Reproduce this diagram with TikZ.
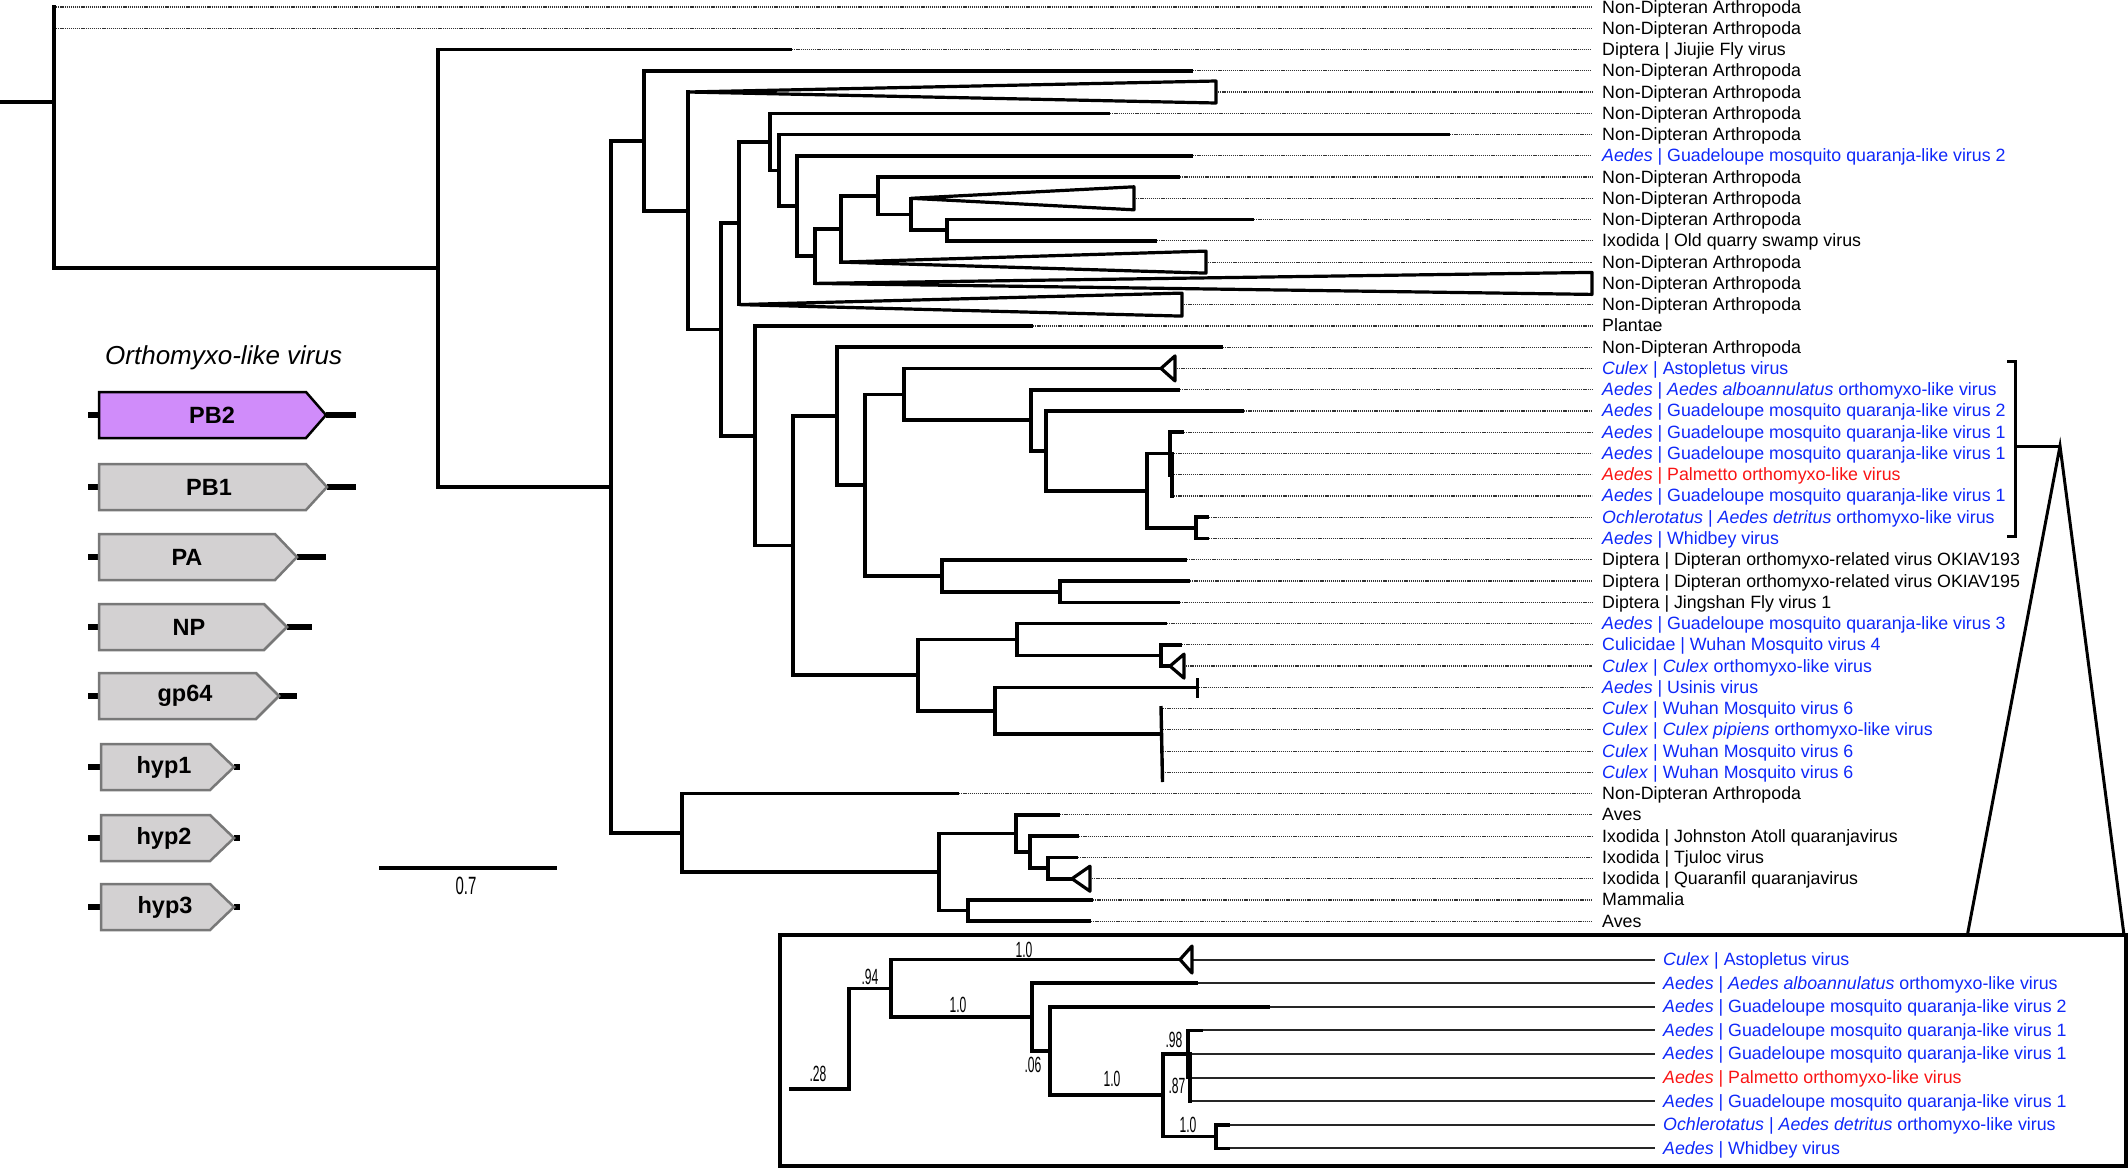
\documentclass[tikz,border=0pt]{standalone}
\usepackage{fontspec}
\setmainfont{Liberation Sans}
\usepackage{graphicx}
\definecolor{lblue}{RGB}{15,40,250}
\definecolor{lred}{RGB}{250,20,20}
\definecolor{pbfill}{RGB}{208,140,250}
\definecolor{gfill}{RGB}{211,209,210}
\definecolor{gedge}{RGB}{120,120,120}
\newcommand\hb[3]{\draw[br] (#2,#1) -- (#3,#1);}
\newcommand\vb[3]{\draw[br] (#1,#2) -- (#1,#3);}
\newcommand\ctri[4]{\draw[ctr] (#1,#2) -- (#3,{#2-#4}) -- (#3,{#2+#4}) -- cycle;}
\newcommand\tlab[2]{\node[lab] (L#1) at (1602,{7+21.26*#1+6}) {#2};}
\newcommand\ilab[2]{\node[lab] (I#1) at (1663,{959.5+23.6*#1+6}) {#2};}
\newcommand\sv[4]{\node[sup] (#1) at (#2,#3) {\scalebox{0.55}[1]{\fontsize{22}{22}\selectfont #4}};}
\newcommand\Bl[1]{\textcolor{lblue}{#1}}
\newcommand\Rd[1]{\textcolor{lred}{#1}}
\newcommand\gene[9]{%
  \draw[stub] (88,#2) -- (#3,#2);
  \draw[stub] (#5,#2) -- (#6,#2);
  \draw[#9] (#3,{#2-23}) -- (#4,{#2-23}) -- (#5,#2) -- (#4,{#2+23}) -- (#3,{#2+23}) -- cycle;
  \node[glab] (#1) at (#7,#2) {#8};}
\tikzset{
 br/.style={line width=3.6pt, line cap=rect},
 ctr/.style={line width=3.2pt, line join=round},
 dotl/.style={line width=1.2pt, black!80, dash pattern=on 1.2pt off 0.9pt},
 thinl/.style={line width=2pt, black!85},
 lab/.style={anchor=base west, inner sep=0pt, font=\fontsize{17.8}{20}\selectfont},
 sup/.style={inner sep=0pt},
 stub/.style={line width=6pt},
 glab/.style={inner sep=0pt, font=\fontsize{23.5}{26}\selectfont\bfseries},
 pbbox/.style={fill=pbfill, draw=black, line width=2.5pt, line join=miter},
 gbox/.style={fill=gfill, draw=gedge, line width=2.5pt, line join=miter}
}
\begin{document}
\begin{tikzpicture}[x=1pt,y=-1pt]
\fill[white] (0,0) rectangle (2128,1168);
\useasboundingbox (0,0) rectangle (2128,1168);
% dotted leaf extensions
\foreach \r/\x in {0/54,1/54,2/790,3/1191,4/1216,5/1108,6/1448,7/1191,8/1178,9/1134,10/1252,11/1155,12/1206,14/1182,15/1031,16/1221,17/1175,18/1178,19/1242,20/1182,21/1172,22/1172,23/1172,24/1207,25/1207,26/1185,27/1188,28/1178,29/1165,30/1180,31/1184,32/1197,33/1161,34/1161,35/1161,36/1161,37/957,38/1058,39/1077,40/1076,41/1090,42/1091,43/1089}
  {\draw[dotl] (\x,{7+21.26*\r}) -- (1592,{7+21.26*\r});}
% main tree
\hb{102}{0}{54}
\vb{54}{7}{268.2}
\hb{268.2}{54}{438}
\vb{438}{49.5}{486.8}
\hb{49.5}{438}{790}
\hb{486.8}{438}{611}
\vb{611}{140.8}{832.8}
\hb{140.8}{611}{644}
\vb{644}{70.8}{210.8}
\hb{70.8}{644}{1191}
\hb{210.8}{644}{688}
\vb{688}{92}{329.5}
\ctri{688}{92}{1216}{11}
\hb{329.5}{688}{721}
\vb{721}{223.2}{435.8}
\hb{223.2}{721}{739}
\vb{739}{141.8}{304.6}
\hb{141.8}{739}{770}
\vb{770}{113.3}{170.3}
\hb{113.3}{770}{1108}
\hb{170.3}{770}{779}
\vb{779}{134.6}{206}
\hb{134.6}{779}{1448}
\hb{206}{779}{797}
\vb{797}{155.8}{256.2}
\hb{155.8}{797}{1191}
\hb{256.2}{797}{815}
\vb{815}{228.9}{283.4}
\hb{228.9}{815}{841}
\ctri{815}{283.4}{1592}{11}
\vb{841}{195.7}{262.1}
\hb{195.7}{841}{878}
\ctri{841}{262.1}{1206}{11}
\vb{878}{177.1}{214.3}
\hb{177.1}{878}{1178}
\hb{214.3}{878}{911}
\vb{911}{198.3}{230.25}
\ctri{911}{198.3}{1134}{11.5}
\hb{230.25}{911}{947}
\vb{947}{219.6}{240.9}
\hb{219.6}{947}{1252}
\hb{240.9}{947}{1155}
\ctri{739}{304.6}{1182}{11.5}
\hb{435.8}{721}{755}
\vb{755}{325.9}{545.6}
\hb{325.9}{755}{1031}
\hb{545.6}{755}{793}
\vb{793}{416.1}{675.1}
\hb{416.1}{793}{837}
\vb{837}{347.2}{485}
\hb{347.2}{837}{1221}
\hb{485}{837}{865}
\vb{865}{394.3}{575.7}
\hb{394.3}{865}{904}
\vb{904}{368.4}{420.2}
\hb{368.4}{904}{1161}
\ctri{1161}{368.4}{1175}{12.5}
\hb{420.2}{904}{1031}
\vb{1031}{389.7}{450.8}
\hb{389.7}{1031}{1178}
\hb{450.8}{1031}{1046}
\vb{1046}{410.9}{490.7}
\hb{410.9}{1046}{1242}
\hb{490.7}{1046}{1147}
\vb{1147}{453.5}{527.9}
\hb{453.5}{1147}{1170}
\vb{1170}{432.2}{474.7}
\hb{432.2}{1170}{1182}
\hb{474.7}{1170}{1172}
\vb{1172}{453.5}{496}
\hb{527.9}{1147}{1196}
\vb{1196}{517.2}{538.5}
\hb{517.2}{1196}{1207}
\hb{538.5}{1196}{1207}
\hb{575.7}{865}{942}
\vb{942}{559.8}{591.7}
\hb{559.8}{942}{1185}
\hb{591.7}{942}{1060}
\vb{1060}{581}{602.3}
\hb{581}{1060}{1188}
\hb{602.3}{1060}{1178}
\hb{675.1}{793}{918}
\vb{918}{639.5}{710.7}
\hb{639.5}{918}{1017}
\vb{1017}{623.5}{655.5}
\hb{623.5}{1017}{1165}
\hb{655.5}{1017}{1161}
\vb{1161}{644.8}{666.1}
\hb{644.8}{1161}{1180}
\hb{666.1}{1161}{1170}
\ctri{1170}{666.1}{1184}{12}
\hb{710.7}{918}{995}
\vb{995}{687.3}{734}
\hb{687.3}{995}{1197}
\draw[line width=3pt] (1197,678) -- (1197,698);
\hb{734}{995}{1161}
\draw[line width=3.4pt] (1161,706) -- (1162.5,782);
\hb{832.8}{611}{682}
\vb{682}{793.6}{872}
\hb{793.6}{682}{957}
\hb{872}{682}{939}
\vb{939}{833.5}{910.55}
\hb{833.5}{939}{1016}
\vb{1016}{814.9}{852.1}
\hb{814.9}{1016}{1058}
\hb{852.1}{1016}{1030}
\vb{1030}{836.1}{868.05}
\hb{836.1}{1030}{1077}
\hb{868.05}{1030}{1048}
\vb{1048}{857.4}{878.7}
\hb{857.4}{1048}{1076}
\hb{878.7}{1048}{1072}
\ctri{1072}{878.7}{1090}{12.5}
\hb{910.55}{939}{968}
\vb{968}{899.9}{921.2}
\hb{899.9}{968}{1091}
\hb{921.2}{968}{1089}
% labels
\tlab{0}{Non-Dipteran Arthropoda}
\tlab{1}{Non-Dipteran Arthropoda}
\tlab{2}{Diptera | Jiujie Fly virus}
\tlab{3}{Non-Dipteran Arthropoda}
\tlab{4}{Non-Dipteran Arthropoda}
\tlab{5}{Non-Dipteran Arthropoda}
\tlab{6}{Non-Dipteran Arthropoda}
\tlab{7}{\Bl{\textit{Aedes} | Guadeloupe mosquito quaranja-like virus 2}}
\tlab{8}{Non-Dipteran Arthropoda}
\tlab{9}{Non-Dipteran Arthropoda}
\tlab{10}{Non-Dipteran Arthropoda}
\tlab{11}{Ixodida | Old quarry swamp virus}
\tlab{12}{Non-Dipteran Arthropoda}
\tlab{13}{Non-Dipteran Arthropoda}
\tlab{14}{Non-Dipteran Arthropoda}
\tlab{15}{Plantae}
\tlab{16}{Non-Dipteran Arthropoda}
\tlab{17}{\Bl{\textit{Culex} | Astopletus virus}}
\tlab{18}{\Bl{\textit{Aedes} | \textit{Aedes alboannulatus} orthomyxo-like virus}}
\tlab{19}{\Bl{\textit{Aedes} | Guadeloupe mosquito quaranja-like virus 2}}
\tlab{20}{\Bl{\textit{Aedes} | Guadeloupe mosquito quaranja-like virus 1}}
\tlab{21}{\Bl{\textit{Aedes} | Guadeloupe mosquito quaranja-like virus 1}}
\tlab{22}{\Rd{\textit{Aedes} | Palmetto orthomyxo-like virus}}
\tlab{23}{\Bl{\textit{Aedes} | Guadeloupe mosquito quaranja-like virus 1}}
\tlab{24}{\Bl{\textit{Ochlerotatus} | \textit{Aedes detritus} orthomyxo-like virus}}
\tlab{25}{\Bl{\textit{Aedes} | Whidbey virus}}
\tlab{26}{Diptera | Dipteran orthomyxo-related virus OKIAV193}
\tlab{27}{Diptera | Dipteran orthomyxo-related virus OKIAV195}
\tlab{28}{Diptera | Jingshan Fly virus 1}
\tlab{29}{\Bl{\textit{Aedes} | Guadeloupe mosquito quaranja-like virus 3}}
\tlab{30}{\Bl{Culicidae | Wuhan Mosquito virus 4}}
\tlab{31}{\Bl{\textit{Culex} | \textit{Culex} orthomyxo-like virus}}
\tlab{32}{\Bl{\textit{Aedes} | Usinis virus}}
\tlab{33}{\Bl{\textit{Culex} | Wuhan Mosquito virus 6}}
\tlab{34}{\Bl{\textit{Culex} | \textit{Culex pipiens} orthomyxo-like virus}}
\tlab{35}{\Bl{\textit{Culex} | Wuhan Mosquito virus 6}}
\tlab{36}{\Bl{\textit{Culex} | Wuhan Mosquito virus 6}}
\tlab{37}{Non-Dipteran Arthropoda}
\tlab{38}{Aves}
\tlab{39}{Ixodida | Johnston Atoll quaranjavirus}
\tlab{40}{Ixodida | Tjuloc virus}
\tlab{41}{Ixodida | Quaranfil quaranjavirus}
\tlab{42}{Mammalia}
\tlab{43}{Aves}
% bracket and zoom lines
\draw[line width=3pt, line join=miter] (2007,361.7) -- (2015,361.7) -- (2015,536) -- (2007,536);
\coordinate (apex) at (2060,446);
\coordinate (bl) at (1967,937);
\coordinate (brt) at (2124,935);
\draw[line width=3pt] (2015,446) -- (apex);
\draw[line width=3pt] (bl) -- (apex) -- (brt);
% inset box
\draw[line width=3.5pt, fill=white] (780,935) rectangle (2126,1166);
% inset tree
\foreach \k/\x in {0/1192,1/1196,2/1268,3/1201,4/1190,5/1190,6/1190,7/1228,8/1228}
  {\draw[thinl] (\x,{959.5+23.6*\k}) -- (1655,{959.5+23.6*\k});}
\hb{1089}{791}{849}
\vb{849}{988.3}{1089}
\hb{988.3}{849}{891}
\vb{891}{959.5}{1017}
\hb{959.5}{891}{1180}
\ctri{1180}{959.5}{1192}{13.5}
\hb{1017}{891}{1032}
\vb{1032}{983.1}{1051}
\hb{983.1}{1032}{1196}
\hb{1051}{1032}{1050}
\vb{1050}{1006.7}{1095.2}
\hb{1006.7}{1050}{1268}
\hb{1095.2}{1050}{1163}
\vb{1163}{1053.9}{1136.5}
\hb{1053.9}{1163}{1188}
\vb{1188}{1030.3}{1077.5}
\hb{1030.3}{1188}{1201}
\hb{1077.5}{1188}{1190}
\vb{1190}{1053.9}{1101.1}
\hb{1136.5}{1163}{1216}
\vb{1216}{1124.7}{1148.3}
\hb{1124.7}{1216}{1228}
\hb{1148.3}{1216}{1228}
\sv{s1}{818}{1074}{.28}
\sv{s2}{870}{977}{.94}
\sv{s3}{1024}{950}{1.0}
\sv{s4}{958}{1005}{1.0}
\sv{s5}{1033}{1065}{.06}
\sv{s6}{1112}{1079}{1.0}
\sv{s7}{1174}{1040}{.98}
\sv{s8}{1177}{1086}{.87}
\sv{s9}{1188}{1125}{1.0}
\ilab{0}{\Bl{\textit{Culex} | Astopletus virus}}
\ilab{1}{\Bl{\textit{Aedes} | \textit{Aedes alboannulatus} orthomyxo-like virus}}
\ilab{2}{\Bl{\textit{Aedes} | Guadeloupe mosquito quaranja-like virus 2}}
\ilab{3}{\Bl{\textit{Aedes} | Guadeloupe mosquito quaranja-like virus 1}}
\ilab{4}{\Bl{\textit{Aedes} | Guadeloupe mosquito quaranja-like virus 1}}
\ilab{5}{\Rd{\textit{Aedes} | Palmetto orthomyxo-like virus}}
\ilab{6}{\Bl{\textit{Aedes} | Guadeloupe mosquito quaranja-like virus 1}}
\ilab{7}{\Bl{\textit{Ochlerotatus} | \textit{Aedes detritus} orthomyxo-like virus}}
\ilab{8}{\Bl{\textit{Aedes} | Whidbey virus}}
% scale bar
\draw[line width=3.5pt] (379,868) -- (557,868);
\node[sup] (scl) at (466,886) {\scalebox{0.6}[1]{\fontsize{25}{25}\selectfont 0.7}};
% legend
\node[anchor=base west, inner sep=0pt, font=\fontsize{26}{30}\selectfont\itshape] (title) at (105,364) {Orthomyxo-like virus};
\gene{gPB2}{415}{99}{306}{326}{356}{212}{PB2}{pbbox}
\gene{gPB1}{487}{99}{306}{327}{356}{209}{PB1}{gbox}
\gene{gPA}{557}{99}{275}{297}{326}{187}{PA}{gbox}
\gene{gNP}{627}{99}{264}{287}{312}{189}{NP}{gbox}
\gene{ggp}{696}{99}{256}{279}{297}{185}{gp64}{gbox}
\gene{gh1}{767}{101}{210}{234}{240}{164}{hyp1}{gbox}
\gene{gh2}{838}{101}{210}{234}{240}{164}{hyp2}{gbox}
\gene{gh3}{907}{101}{210}{234}{240}{165}{hyp3}{gbox}
\end{tikzpicture}
\end{document}
